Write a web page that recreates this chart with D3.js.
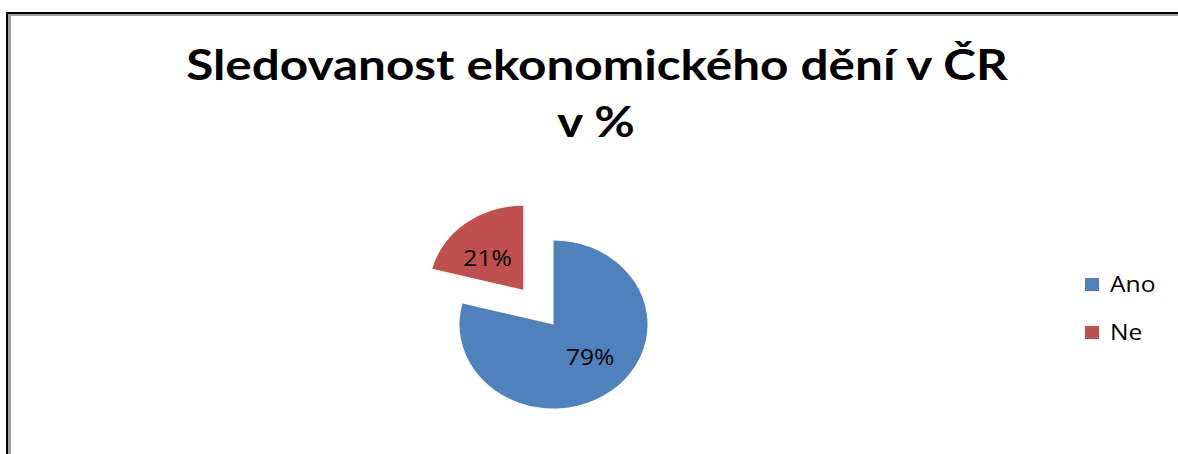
<!DOCTYPE html>
<html><head><meta charset="utf-8">
<script src="https://cdn.jsdelivr.net/npm/d3@7"></script>
<style>html,body{margin:0;padding:0;background:#fff;overflow:hidden}</style>
</head><body>
<svg id="c" width="1178" height="454"></svg>
<script>
const categories = ["Ano", "Ne"];
const values = [79, 21];
const labels = ["79%", "21%"];
const colors = ["#4F81BD", "#C0504D"];
const titleLines = ["Sledovanost ekonomického dění v ČR", "v %"];

const svg = d3.select("#c");
// frame
svg.append("rect").attr("x", 9.5).attr("y", 14.5).attr("width", 1300).attr("height", 600)
  .attr("fill", "none").attr("stroke", "#a0a0a0").attr("stroke-width", 3);
svg.append("rect").attr("x", 7).attr("y", 13).attr("width", 1300).attr("height", 600)
  .attr("fill", "none").attr("stroke", "#000").attr("stroke-width", 2);

// title
const tfont = "Lato, 'Open Sans', sans-serif";
const font = "'Open Sans', sans-serif";
const t1 = svg.append("text").attr("x", 597).attr("y", 80).attr("text-anchor", "middle")
  .attr("font-family", tfont).attr("font-weight", "bold").attr("font-size", 42).attr("fill", "#000")
  .text(titleLines[0]);
const t2 = svg.append("text").attr("x", 596).attr("y", 137).attr("text-anchor", "middle")
  .attr("font-family", tfont).attr("font-weight", "bold").attr("font-size", 42).attr("fill", "#000")
  .text(titleLines[1]);
const w1 = t1.node().getComputedTextLength();
const sx = 822 / w1;
t1.attr("transform", `translate(597,0) scale(${sx},1) translate(-597,0)`);
t2.attr("transform", `translate(596,0) scale(${sx},1) translate(-596,0)`);

// pie
const cx = 553.5, cy = 324.5, r = 84, stretch = 94 / 84;
const pie = d3.pie().sort(null).value(d => d)(values);
const arc = d3.arc().innerRadius(0).outerRadius(r);
const g = svg.append("g").attr("transform", `translate(${cx},${cy}) scale(${stretch},1)`);
const explode = [0, 44];
pie.forEach((p, i) => {
  const mid = (p.startAngle + p.endAngle) / 2;
  const dx = Math.sin(mid) * explode[i], dy = -Math.cos(mid) * explode[i];
  g.append("path").attr("d", arc(p)).attr("fill", colors[i])
    .attr("transform", `translate(${dx},${dy})`);
});
// labels
const labOffsets = [[5, -4], [-4, 4]];
const lab = d3.arc().innerRadius(r * 0.55).outerRadius(r * 0.55);
pie.forEach((p, i) => {
  const mid = (p.startAngle + p.endAngle) / 2;
  const ex = Math.sin(mid) * explode[i], ey = -Math.cos(mid) * explode[i];
  const c = lab.centroid(p);
  const px = cx + (c[0] + ex) * stretch + labOffsets[i][0], py = cy + c[1] + ey + labOffsets[i][1];
  svg.append("text").attr("x", px).attr("y", py).attr("text-anchor", "middle")
    .attr("dominant-baseline", "central")
    .attr("font-family", font).attr("font-size", 22).attr("fill", "#000")
    .attr("transform", `translate(${px},0) scale(1.12,1) translate(${-px},0)`)
    .text(labels[i]);
});

// legend
const lg = svg.append("g");
categories.forEach((c, i) => {
  const y = 278 + i * 48;
  lg.append("rect").attr("x", 1085).attr("y", y).attr("width", 14).attr("height", 13).attr("fill", colors[i]);
  lg.append("text").attr("x", 1110).attr("y", y + 14).attr("font-family", font).attr("font-size", 22)
    .attr("fill", "#000")
    .attr("transform", `translate(1110,0) scale(1.12,1) translate(-1110,0)`)
    .text(c);
});
</script>
</body></html>
